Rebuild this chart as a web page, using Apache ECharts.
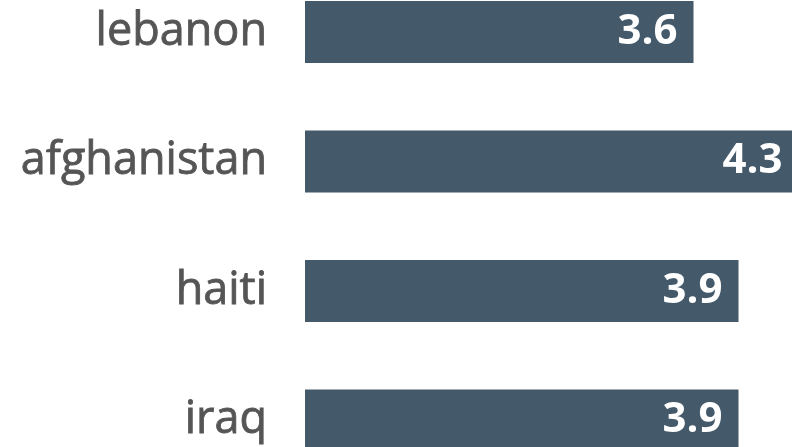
<!DOCTYPE html>
<html>
<head>
<meta charset="utf-8">
<script src="https://cdn.jsdelivr.net/npm/echarts@6/dist/echarts.min.js"></script>
<style>
  html, body { margin: 0; padding: 0; background: #fff; }
  #chart { width: 792px; height: 447px; }
</style>
</head>
<body>
<div id="chart"></div>
<script>
const countries = ['lebanon', 'afghanistan', 'haiti', 'iraq']
const scores = [3.6, 4.3, 3.9, 3.9]

const chart = echarts.init(document.getElementById('chart'))

chart.setOption({
  animation: false,
  grid: {
    left: 305,
    right: -6.5,
    top: -32.75,
    bottom: -38.25,
    containLabel: false,
    outerBoundsMode: 'none',
  },
  xAxis: {
    type: 'value',
    min: 1.01,
    max: 4.3,
    show: false,
  },
  yAxis: {
    type: 'category',
    data: countries,
    inverse: true,
    axisLine: { show: false },
    axisTick: { show: false },
    axisLabel: {
      margin: 38,
      color: '#555555',
      fontFamily: 'Open Sans',
      fontWeight: 'normal',
      fontSize: 45,
      textBorderColor: '#555555',
      textBorderWidth: 0.8,
    },
  },
  series: [
    {
      type: 'bar',
      data: scores,
      barWidth: 62,
      clip: true,
      itemStyle: { color: '#44596a' },
      label: {
        show: true,
        position: 'insideRight',
        distance: 16,
        color: '#fff',
        fontFamily: 'Open Sans',
        fontWeight: 'bold',
        fontSize: 42,
        formatter: (p) => p.value.toFixed(1),
      },
    },
  ],
})
</script>
</body>
</html>
